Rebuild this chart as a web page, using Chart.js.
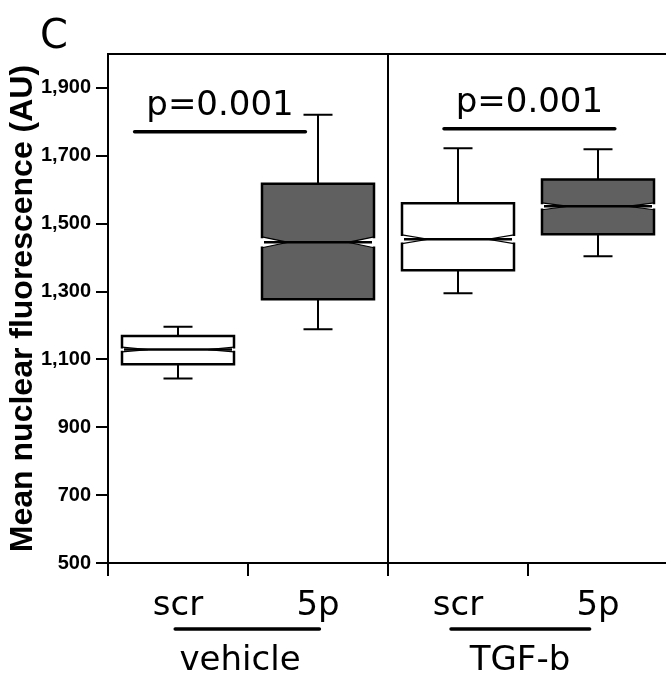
<!doctype html>
<html>
<head>
	<title>Notched Box Plot</title>
	<script src="https://cdn.jsdelivr.net/npm/chart.js@4"></script>
	<style>
		html, body { margin: 0; padding: 0; overflow: hidden; background: #fff; }
		#wrap { width: 668px; height: 679px; }
	</style>
</head>

<body>
	<div id="wrap">
		<canvas id="canvas"></canvas>
	</div>
	<script>
		var categories = ['scr', '5p', 'scr', '5p'];
		var groups = ['vehicle', 'TGF-b'];
		var whiskerLow = [1044, 1189, 1295, 1404];
		var lowerQuartile = [1086, 1277, 1363, 1469];
		var median = [1129, 1445, 1454, 1551];
		var upperQuartile = [1169, 1618, 1560, 1630];
		var whiskerHigh = [1196, 1821, 1722, 1719];
		var notchHalf = [7, 16, 13, 10];
		var yTicks = [500, 700, 900, 1100, 1300, 1500, 1700, 1900];
		var pValues = ['p=0.001', 'p=0.001'];
		var pBarLevel = [1771, 1780];

		var textFont = "'DejaVu Sans', sans-serif";

		// significance bars and group underlines, in category units
		var pBarSpan = [[-0.31, 0.91], [1.9, 3.12]];
		var groupSpan = [[-0.02, 1.01], [1.95, 2.94]];

		var boxPlot = {
			id: 'boxPlot',
			afterDatasetsDraw: function(chart) {
				var ctx = chart.ctx;
				var y = chart.scales.y;
				var x = chart.scales.x;
				var ds = chart.data.datasets[0];
				var meta = chart.getDatasetMeta(0);
				ctx.save();
				ctx.strokeStyle = '#000';
				meta.data.forEach(function(bar, i) {
					var cx = bar.x;
					var L = cx - bar.width / 2;
					var R = cx + bar.width / 2;
					var top = y.getPixelForValue(upperQuartile[i]);
					var bot = y.getPixelForValue(lowerQuartile[i]);
					var med = y.getPixelForValue(median[i]);
					var nUp = y.getPixelForValue(median[i] + notchHalf[i]);
					var nDn = y.getPixelForValue(median[i] - notchHalf[i]);
					var hi = y.getPixelForValue(whiskerHigh[i]);
					var lo = y.getPixelForValue(whiskerLow[i]);
					var d = 26;

					// whiskers
					ctx.lineWidth = 2;
					ctx.beginPath();
					ctx.moveTo(cx, top); ctx.lineTo(cx, hi);
					ctx.moveTo(cx - 14.5, hi); ctx.lineTo(cx + 14.5, hi);
					ctx.moveTo(cx, bot); ctx.lineTo(cx, lo);
					ctx.moveTo(cx - 14.5, lo); ctx.lineTo(cx + 14.5, lo);
					ctx.stroke();

					// notched box fill
					ctx.beginPath();
					ctx.moveTo(L, top);
					ctx.lineTo(R, top);
					ctx.lineTo(R, nUp);
					ctx.lineTo(R - d, med);
					ctx.lineTo(R, nDn);
					ctx.lineTo(R, bot);
					ctx.lineTo(L, bot);
					ctx.lineTo(L, nDn);
					ctx.lineTo(L + d, med);
					ctx.lineTo(L, nUp);
					ctx.closePath();
					ctx.fillStyle = ds.boxFill[i];
					ctx.fill();

					// outer edges
					ctx.lineWidth = 2.5;
					ctx.lineCap = 'square';
					ctx.beginPath();
					ctx.moveTo(L, nUp); ctx.lineTo(L, top); ctx.lineTo(R, top); ctx.lineTo(R, nUp);
					ctx.moveTo(L, nDn); ctx.lineTo(L, bot); ctx.lineTo(R, bot); ctx.lineTo(R, nDn);
					ctx.stroke();

					// notch edges
					ctx.lineWidth = 1.2;
					ctx.lineCap = 'butt';
					ctx.beginPath();
					ctx.moveTo(L, nUp); ctx.lineTo(L + d, med); ctx.lineTo(L, nDn);
					ctx.moveTo(R, nUp); ctx.lineTo(R - d, med); ctx.lineTo(R, nDn);
					ctx.stroke();

					// median
					ctx.lineWidth = 2.5;
					ctx.beginPath();
					ctx.moveTo(L + 2, med);
					ctx.lineTo(R - 2, med);
					ctx.stroke();
				});

				// significance bars
				ctx.lineWidth = 3.5;
				ctx.lineCap = 'round';
				ctx.fillStyle = '#000';
				ctx.font = '34px ' + textFont;
				ctx.textAlign = 'center';
				ctx.textBaseline = 'alphabetic';
				pValues.forEach(function(txt, k) {
					var x0 = x.getPixelForValue(pBarSpan[k][0]);
					var x1 = x.getPixelForValue(pBarSpan[k][1]);
					var py = y.getPixelForValue(pBarLevel[k]);
					ctx.beginPath();
					ctx.moveTo(x0, py);
					ctx.lineTo(x1, py);
					ctx.stroke();
					ctx.fillText(txt, (x0 + x1) / 2, py - 17);
				});

				// group underlines
				groupSpan.forEach(function(s) {
					var gy = x.top + 66;
					ctx.beginPath();
					ctx.moveTo(x.getPixelForValue(s[0]), gy);
					ctx.lineTo(x.getPixelForValue(s[1]), gy);
					ctx.stroke();
				});
				ctx.restore();
			},
			afterDraw: function(chart) {
				var ctx = chart.ctx;
				var a = chart.chartArea;
				ctx.save();
				// top frame
				ctx.strokeStyle = '#000';
				ctx.lineWidth = 2;
				ctx.beginPath();
				ctx.moveTo(a.left, a.top);
				ctx.lineTo(a.right, a.top);
				ctx.stroke();
				// panel letter
				ctx.fillStyle = '#000';
				ctx.font = '40px ' + textFont;
				ctx.textBaseline = 'alphabetic';
				ctx.fillText('C', 40, 48);
				ctx.restore();
			}
		};

		var config = {
			type: 'bar',
			data: {
				labels: categories,
				datasets: [{
					data: lowerQuartile.map(function(v, i) { return [v, upperQuartile[i]]; }),
					backgroundColor: 'rgba(0,0,0,0)',
					borderWidth: 0,
					boxFill: ['#ffffff', '#606060', '#ffffff', '#606060'],
					barPercentage: 0.8,
					categoryPercentage: 1.0
				}]
			},
			options: {
				responsive: true,
				maintainAspectRatio: false,
				animation: false,
				layout: { padding: { top: 54, left: 0, right: 0, bottom: 0 } },
				plugins: {
					legend: { display: false },
					tooltip: { enabled: false },
					title: { display: false }
				},
				scales: {
					x: {
						type: 'category',
						position: 'bottom',
						offset: true,
						afterFit: function(s) { s.height = 75; },
						grid: {
							offset: true,
							drawOnChartArea: true,
							drawTicks: true,
							tickLength: 13,
							lineWidth: 2,
							tickColor: '#000',
							color: function(c) { return c.index === 2 ? '#000' : 'rgba(0,0,0,0)'; }
						},
						border: { display: true, color: '#000', width: 2 },
						ticks: {
							color: '#000',
							font: { family: textFont, size: 34 },
							padding: 10,
							maxRotation: 0,
							autoSkip: false
						}
					},
					g: {
						type: 'category',
						position: 'bottom',
						weight: 1,
						labels: groups,
						offset: true,
						afterFit: function(s) { s.height = 41; },
						grid: { display: false, drawTicks: false },
						border: { display: false },
						ticks: {
							color: '#000',
							font: { family: textFont, size: 34 },
							padding: 3,
							labelOffset: -8,
							maxRotation: 0,
							autoSkip: false
						}
					},
					y: {
						min: 500,
						max: 2000,
						afterFit: function(s) { s.width = 108; },
						afterBuildTicks: function(s) {
							s.ticks = yTicks.map(function(v) { return { value: v }; });
						},
						grid: {
							drawOnChartArea: false,
							drawTicks: true,
							tickLength: 12,
							lineWidth: 2,
							color: '#000'
						},
						border: { display: true, color: '#000', width: 2 },
						ticks: {
							color: '#000',
							padding: 5,
							font: { family: "'Liberation Sans Narrow', 'Liberation Sans', Arial, sans-serif", size: 20, weight: 'bold' },
							callback: function(v) { return Number(v).toLocaleString('en-US'); }
						},
						title: {
							display: true,
							text: 'Mean nuclear fluorescence (AU)',
							color: '#000',
							padding: { top: 4, bottom: 0 },
							font: { family: "'Liberation Sans', Arial, sans-serif", size: 32, weight: 'bold' }
						}
					}
				}
			},
			plugins: [boxPlot]
		};

		window.onload = function() {
			window.myChart = new Chart(document.getElementById('canvas'), config);
		};
	</script>
</body>

</html>
